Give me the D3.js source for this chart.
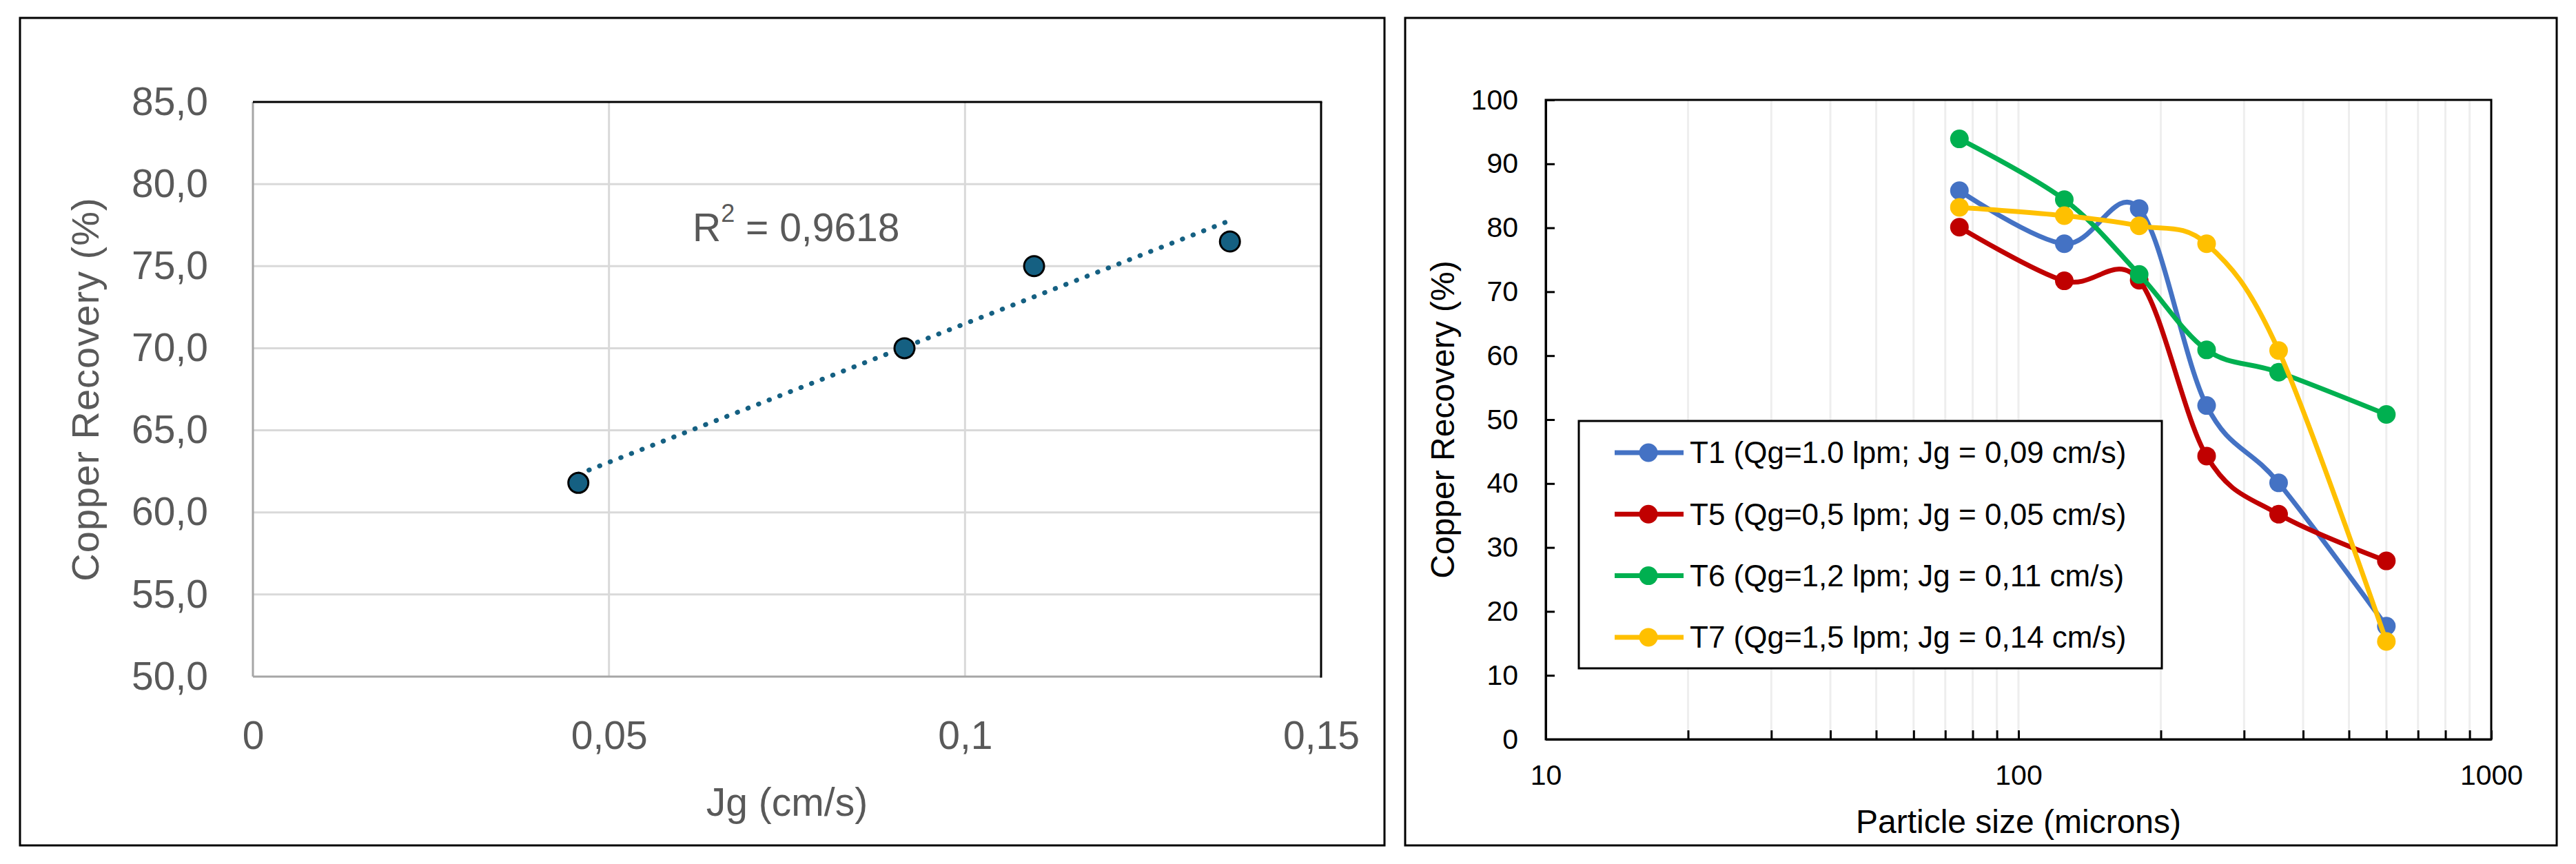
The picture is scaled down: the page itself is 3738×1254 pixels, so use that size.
<!DOCTYPE html>
<html>
<head>
<meta charset="utf-8">
<script src="https://cdn.jsdelivr.net/npm/d3@7"></script>
<style>
  body { margin: 0; background: #fff; }
  text { font-family: "Liberation Sans", Arial, sans-serif; }
</style>
</head>
<body>
<div id="chart"></div>
<script>
// ---- left chart: recovery vs Jg ----
var jgValues = [0.0457, 0.0915, 0.1097, 0.1372];
var recoveryByJg = [61.8, 70.0, 75.0, 76.5];
var r2Text = "0,9618";
var jgTicks = [0, 0.05, 0.1, 0.15];
var leftYTicks = [50, 55, 60, 65, 70, 75, 80, 85];

// ---- right chart: recovery vs particle size ----
var particleSizes = [75, 125, 180, 250, 355, 600];
var seriesNames = [
    "T1 (Qg=1.0 lpm; Jg = 0,09 cm/s)",
    "T5 (Qg=0,5 lpm; Jg = 0,05 cm/s)",
    "T6 (Qg=1,2 lpm; Jg = 0,11 cm/s)",
    "T7 (Qg=1,5 lpm; Jg = 0,14 cm/s)"
];
var seriesColors = ["#4472C4", "#C00000", "#00B050", "#FFC000"];
var t1 = [85.8, 77.5, 83.0, 52.2, 40.1, 17.7];
var t5 = [80.1, 71.7, 71.8, 44.3, 35.2, 27.9];
var t6 = [93.9, 84.4, 72.7, 60.9, 57.4, 50.8];
var t7 = [83.2, 81.9, 80.3, 77.5, 60.8, 15.3];
var sizeTicks = [10, 20, 30, 40, 50, 60, 70, 80, 90, 100, 200, 300, 400, 500, 600, 700, 800, 900, 1000];
var sizeLabels = [10, 100, 1000];
var rightYTicks = [0, 10, 20, 30, 40, 50, 60, 70, 80, 90, 100];

var svg = d3.select("#chart").append("svg")
    .attr("width", 3738)
    .attr("height", 1254);

svg.append("rect").attr("width", 3738).attr("height", 1254).attr("fill", "#fff");

// panel frames
svg.append("rect").attr("x", 29).attr("y", 26).attr("width", 1980).attr("height", 1201)
    .attr("fill", "none").attr("stroke", "#000").attr("stroke-width", 3);
svg.append("rect").attr("x", 2039).attr("y", 26).attr("width", 1671).attr("height", 1201)
    .attr("fill", "none").attr("stroke", "#000").attr("stroke-width", 3);

// ================= left chart =================
var L = { left: 367, right: 1917, top: 148, bottom: 982 };
var xL = d3.scaleLinear().domain([0, 0.15]).range([L.left, L.right]);
var yL = d3.scaleLinear().domain([50, 85]).range([L.bottom, L.top]);
var gL = svg.append("g");
var grayText = "#595959";

// gridlines
gL.selectAll(".hgrid").data(leftYTicks.slice(1, -1)).enter().append("line")
    .attr("x1", L.left).attr("x2", L.right)
    .attr("y1", function(d) { return yL(d); }).attr("y2", function(d) { return yL(d); })
    .attr("stroke", "#d9d9d9").attr("stroke-width", 3);
gL.selectAll(".vgrid").data(jgTicks.slice(1, -1)).enter().append("line")
    .attr("y1", L.top).attr("y2", L.bottom)
    .attr("x1", function(d) { return xL(d); }).attr("x2", function(d) { return xL(d); })
    .attr("stroke", "#d9d9d9").attr("stroke-width", 3);

// plot frame: gray left/bottom, black top/right
gL.append("line").attr("x1", L.left).attr("x2", L.left).attr("y1", L.top).attr("y2", L.bottom)
    .attr("stroke", "#a6a6a6").attr("stroke-width", 3);
gL.append("line").attr("x1", L.left).attr("x2", L.right).attr("y1", L.bottom).attr("y2", L.bottom)
    .attr("stroke", "#a6a6a6").attr("stroke-width", 3);
gL.append("line").attr("x1", L.left).attr("x2", L.right + 1.5).attr("y1", L.top).attr("y2", L.top)
    .attr("stroke", "#000").attr("stroke-width", 3);
gL.append("line").attr("x1", L.right).attr("x2", L.right).attr("y1", L.top).attr("y2", L.bottom + 1.5)
    .attr("stroke", "#000").attr("stroke-width", 3);

var commaFmt = function(d) { return d === 0 ? "0" : String(d).replace(".", ","); };

var yAxisL = gL.append("g")
    .attr("transform", "translate(" + L.left + ",0)")
    .call(d3.axisLeft(yL).tickValues(leftYTicks).tickSize(0).tickPadding(65)
        .tickFormat(function(d) { return d.toFixed(1).replace(".", ","); }));
var xAxisL = gL.append("g")
    .attr("transform", "translate(0," + L.bottom + ")")
    .call(d3.axisBottom(xL).tickValues(jgTicks).tickSize(0).tickPadding(65).tickFormat(commaFmt));
[yAxisL, xAxisL].forEach(function(a) {
    a.select(".domain").remove();
    a.selectAll("text").attr("fill", grayText).style("font-size", "57px")
        .style("font-family", '"Liberation Sans", Arial, sans-serif');
});

gL.append("text")
    .attr("transform", "translate(123," + ((L.top + L.bottom) / 2) + ") rotate(-90)")
    .attr("text-anchor", "middle").attr("dy", "0.35em")
    .attr("fill", grayText).style("font-size", "56px").style("letter-spacing", "1px")
    .text("Copper Recovery (%)");
gL.append("text")
    .attr("x", (L.left + L.right) / 2).attr("y", 1164).attr("dy", "0.35em")
    .attr("text-anchor", "middle").attr("fill", grayText).style("font-size", "57px")
    .text("Jg (cm/s)");

// linear trendline (least squares over the points)
var mx = d3.mean(jgValues), my = d3.mean(recoveryByJg);
var sxy = d3.sum(jgValues, function(x, i) { return (x - mx) * (recoveryByJg[i] - my); });
var sxx = d3.sum(jgValues, function(x) { return (x - mx) * (x - mx); });
var slope = sxy / sxx, intercept = my - slope * mx;
var xExt = d3.extent(jgValues);
gL.append("line")
    .attr("x1", xL(xExt[0])).attr("y1", yL(intercept + slope * xExt[0]))
    .attr("x2", xL(xExt[1])).attr("y2", yL(intercept + slope * xExt[1]))
    .attr("stroke", "#156082").attr("stroke-width", 7)
    .attr("stroke-linecap", "round").attr("stroke-dasharray", "0.5 16");

gL.selectAll(".pt").data(jgValues).enter().append("circle")
    .attr("cx", function(d) { return xL(d); })
    .attr("cy", function(d, i) { return yL(recoveryByJg[i]); })
    .attr("r", 14.5)
    .attr("fill", "#156082").attr("stroke", "#000").attr("stroke-width", 3);

var r2 = gL.append("text").attr("x", 1005).attr("y", 350)
    .attr("fill", grayText).style("font-size", "57px");
r2.append("tspan").text("R");
r2.append("tspan").attr("dy", -28).style("font-size", "36px").text("2");
r2.append("tspan").attr("dy", 28).text(" = " + r2Text);

// ================= right chart =================
var R = { left: 2243, right: 3615, top: 145, bottom: 1073 };
var xR = d3.scaleLog().domain([10, 1000]).range([R.left, R.right]);
var yR = d3.scaleLinear().domain([0, 100]).range([R.bottom, R.top]);
var gR = svg.append("g");

gR.selectAll(".vgrid").data(sizeTicks.slice(1, -1)).enter().append("line")
    .attr("x1", function(d) { return xR(d); }).attr("x2", function(d) { return xR(d); })
    .attr("y1", R.top).attr("y2", R.bottom)
    .attr("stroke", "#eeeeee").attr("stroke-width", 3);

gR.append("rect").attr("x", R.left).attr("y", R.top)
    .attr("width", R.right - R.left).attr("height", R.bottom - R.top)
    .attr("fill", "none").attr("stroke", "#000").attr("stroke-width", 3);

var yAxisR = gR.append("g")
    .attr("transform", "translate(" + R.left + ",0)")
    .call(d3.axisLeft(yR).tickValues(rightYTicks).tickSizeInner(-13).tickSizeOuter(0).tickPadding(40));
var xAxisR = gR.append("g")
    .attr("transform", "translate(0," + R.bottom + ")")
    .call(d3.axisBottom(xR).tickValues(sizeTicks).tickSizeInner(-13).tickSizeOuter(0).tickPadding(37)
        .tickFormat(function(d) { return sizeLabels.indexOf(d) >= 0 ? d : ""; }));
[yAxisR, xAxisR].forEach(function(a) {
    a.select(".domain").attr("stroke", "#000").attr("stroke-width", 3);
    a.selectAll(".tick line").attr("stroke", "#000").attr("stroke-width", 3);
    a.selectAll("text").attr("fill", "#000").style("font-size", "41px")
        .style("font-family", '"Liberation Sans", Arial, sans-serif');
});

gR.append("text")
    .attr("transform", "translate(2093," + ((R.top + R.bottom) / 2) + ") rotate(-90)")
    .attr("text-anchor", "middle").attr("dy", "0.35em")
    .attr("fill", "#000").style("font-size", "48px")
    .text("Copper Recovery (%)");
gR.append("text")
    .attr("x", (R.left + R.right) / 2).attr("y", 1192).attr("dy", "0.35em")
    .attr("text-anchor", "middle").attr("fill", "#000").style("font-size", "48px")
    .text("Particle size (microns)");

var seriesValues = [t1, t5, t6, t7];
var line = d3.line()
    .x(function(d, i) { return xR(particleSizes[i]); })
    .y(function(d) { return yR(d); })
    .curve(d3.curveCardinal.tension(0));

seriesValues.forEach(function(vals, s) {
    var g = gR.append("g");
    g.append("path").datum(vals).attr("d", line)
        .attr("fill", "none").attr("stroke", seriesColors[s]).attr("stroke-width", 7)
        .attr("stroke-linejoin", "round");
    g.selectAll("circle").data(vals).enter().append("circle")
        .attr("cx", function(d, i) { return xR(particleSizes[i]); })
        .attr("cy", function(d) { return yR(d); })
        .attr("r", 13.5).attr("fill", seriesColors[s]);
});

// legend
var leg = gR.append("g");
leg.append("rect").attr("x", 2291).attr("y", 611).attr("width", 846).attr("height", 359)
    .attr("fill", "#fff").attr("stroke", "#000").attr("stroke-width", 3);
var rows = leg.selectAll(".row").data(seriesNames).enter().append("g")
    .attr("transform", function(d, i) { return "translate(0," + (657 + i * 89.3) + ")"; });
rows.append("line").attr("x1", 2343).attr("x2", 2443)
    .attr("stroke", function(d, i) { return seriesColors[i]; }).attr("stroke-width", 7);
rows.append("circle").attr("cx", 2392).attr("r", 13.5)
    .attr("fill", function(d, i) { return seriesColors[i]; });
rows.append("text").attr("x", 2452).attr("dy", "0.35em")
    .attr("fill", "#000").style("font-size", "44px")
    .text(function(d) { return d; });
</script>
</body>
</html>
